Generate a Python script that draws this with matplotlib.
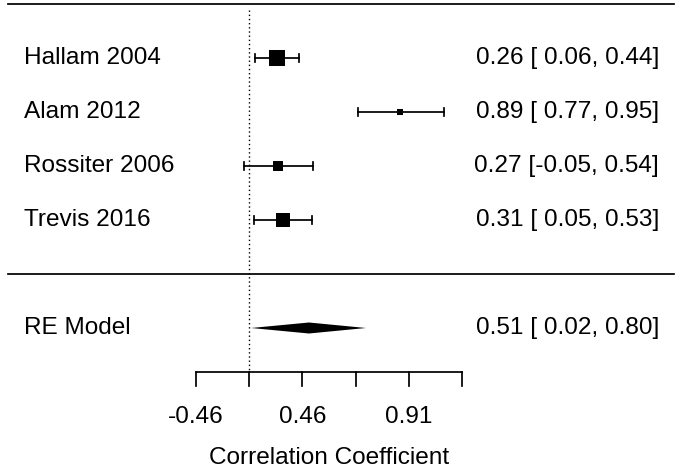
import matplotlib
matplotlib.use("Agg")
import matplotlib.pyplot as plt
import numpy as np

plt.rcParams["font.family"] = ["Liberation Sans", "DejaVu Sans"]

# study-level correlations and 95% CIs (r scale)
studies = ["Hallam 2004", "Alam 2012", "Rossiter 2006", "Trevis 2016"]
r_est = [0.26, 0.89, 0.27, 0.31]
r_lo = [0.06, 0.77, -0.05, 0.05]
r_hi = [0.44, 0.95, 0.54, 0.53]
weights = [28.0, 22.0, 24.2, 26.4]

# random-effects summary
re_label = "RE Model"
re_est = 0.51
re_lo = 0.02
re_hi = 0.80

# axis ticks on the Fisher z scale, labelled back-transformed
z_ticks = [-0.5, 0.0, 0.5, 1.0, 1.5, 2.0]
z_labelled = [-0.5, 0.5, 1.5]
xlabel = "Correlation Coefficient"

PX = 106.5   # pixels per z unit
RY = 54.0    # pixels per row
X0 = 249.0   # pixel x of z = 0
Y0 = 274.0   # pixel y of row 0
FS = 17.6
LW = 1.25


def px_to_z(px):
    return (px - X0) / PX


def px_to_row(py):
    return (Y0 - py) / RY


def ci_text(est, lo, hi):
    return f"{est:.2f} [{lo:5.2f}, {hi:.2f}]"


fig = plt.figure(figsize=(6.8, 4.72), dpi=100)
ax = fig.add_axes([0, 0, 1, 1])
ax.set_xlim(px_to_z(0), px_to_z(680))
ax.set_ylim(px_to_row(472), px_to_row(0))
ax.axis("off")

k = len(studies)
rows = np.arange(k, 0, -1)
z = np.arctanh(r_est)
zl = np.arctanh(r_lo)
zh = np.arctanh(r_hi)

# horizontal separators
ax.plot([px_to_z(8), px_to_z(674)], [k + 1, k + 1], color="black", lw=LW)
ax.plot([px_to_z(8), px_to_z(674)], [0, 0], color="black", lw=LW)

# reference line at zero
ax.plot([0, 0], [px_to_row(10), px_to_row(372)], color="black", lw=1.0,
        linestyle=(0, (1, 2)))

# study CIs and squares
w = np.asarray(weights)
size_px = 5.5 + (w - w.min()) / (w.max() - w.min()) * 11
cap = 4 / RY
for i in range(k):
    y = rows[i]
    ax.plot([zl[i], zh[i]], [y, y], color="black", lw=LW)
    ax.plot([zl[i], zl[i]], [y - cap, y + cap], color="black", lw=LW)
    ax.plot([zh[i], zh[i]], [y - cap, y + cap], color="black", lw=LW)
    ax.plot(z[i], y, marker="s", color="black", markersize=size_px[i] * 0.72,
            markeredgewidth=0)
    ax.text(px_to_z(24), y, studies[i], ha="left", va="center", fontsize=FS)
    ax.text(px_to_z(659), y, ci_text(r_est[i], r_lo[i], r_hi[i]),
            ha="right", va="center", fontsize=FS)

# summary diamond
yd = -1
hh = 5.5 / RY
dz = [np.arctanh(re_lo), np.arctanh(re_est), np.arctanh(re_hi), np.arctanh(re_est)]
ax.fill(dz, [yd, yd + hh, yd, yd - hh], color="black", lw=0)
ax.text(px_to_z(24), yd, re_label, ha="left", va="center", fontsize=FS)
ax.text(px_to_z(659), yd, ci_text(re_est, re_lo, re_hi),
        ha="right", va="center", fontsize=FS)

# bottom axis
ya = px_to_row(372)
tl = 14 / RY
ax.plot([z_ticks[0], z_ticks[-1]], [ya, ya], color="black", lw=LW)
for t in z_ticks:
    ax.plot([t, t], [ya, ya - tl], color="black", lw=LW)
for t in z_labelled:
    ax.text(t, px_to_row(417), f"{np.tanh(t):.2f}", ha="center", va="center",
            fontsize=FS)
ax.text((z_ticks[0] + z_ticks[-1]) / 2, px_to_row(458), xlabel, ha="center",
        va="center", fontsize=FS)

fig.savefig("out.png", dpi=100)
